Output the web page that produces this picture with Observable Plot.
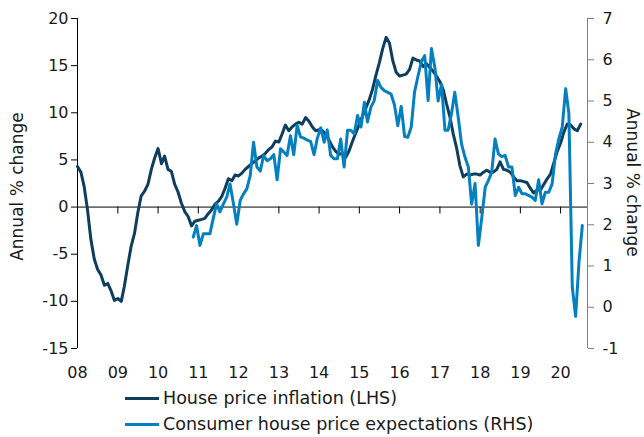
<!DOCTYPE html>
<html>
<head>
<meta charset="utf-8">
<script src="https://cdn.jsdelivr.net/npm/d3@7"></script>
<script src="https://cdn.jsdelivr.net/npm/@observablehq/plot@0.6"></script>
<style>
  html, body { margin: 0; padding: 0; background: #fff; overflow: hidden; }
  body { font-family: "DejaVu Sans", Verdana, sans-serif; color: #1a1a1a; width: 644px; }
  #legend { margin-left: 125px; font-size: 17.5px; }
  #legend .row { display: flex; align-items: center; height: 26px; }
  #legend .sw { display: inline-block; width: 34px; height: 3px; margin-right: 4px; }
</style>
</head>
<body>
<div id="chart"></div>
<div id="legend"></div>
<script>
// ---- data (monthly) ----
const startYear = 2008;
// House price inflation, LHS, monthly from Jan 2008
const housePriceInflation = [
  4.3, 3.7, 2.2, -0.3, -3.4, -5.5, -6.6, -7.2, -8.3, -8.1,
  -8.9, -9.9, -9.7, -10.0, -8.4, -6.2, -4.2, -2.8, -0.6, 1.2,
  1.7, 2.4, 4.0, 5.2, 6.2, 4.6, 5.4, 4.0, 3.8, 2.4,
  1.6, 0.4, -0.5, -1.0, -2.0, -1.5, -1.4, -1.3, -1.2, -0.7,
  -0.3, 0.3, 0.6, 1.1, 2.0, 3.0, 2.8, 3.4, 3.3, 3.6,
  4.0, 4.3, 4.6, 4.9, 5.2, 5.4, 5.7, 6.1, 6.4, 7.0,
  6.9, 7.8, 8.7, 8.1, 8.5, 8.8, 9.0, 8.8, 9.5, 9.1,
  8.5, 8.1, 8.2, 8.1, 7.7, 7.1, 6.4, 5.9, 5.6, 5.7,
  5.3, 6.0, 7.0, 7.9, 8.8, 9.7, 10.5, 11.4, 12.5, 14.0,
  15.3, 16.8, 18.0, 17.4, 15.5, 14.3, 13.9, 14.0, 14.1, 14.6,
  15.8, 15.6, 15.5, 14.9, 15.2, 14.8, 14.4, 13.9, 13.3, 12.4,
  11.0, 9.6, 7.8, 6.3, 4.4, 3.2, 3.5, 3.4, 3.5, 3.5,
  3.4, 3.7, 3.9, 3.7, 3.7, 4.0, 4.8, 4.0, 3.9, 3.7,
  3.2, 2.8, 2.8, 2.7, 2.6, 2.0, 1.5, 1.8, 1.8, 2.4,
  3.0, 3.5, 4.7, 5.9, 6.8, 8.0, 8.8, 8.7, 8.3, 8.1,
  8.8
];
// Consumer house price expectations, RHS, monthly starting Nov 2010 (month index 34)
const expectationsStartMonth = 34;
const priceExpectations = [
  1.70, 1.98, 1.50, 1.78, 1.78, 1.78, 2.15, 2.51, 2.31, 2.50,
  2.67, 2.99, 2.51, 2.01, 2.59, 2.75, 2.87, 3.19, 4.00, 3.40,
  3.30, 3.68, 3.55, 3.60, 3.70, 3.09, 3.84, 3.76, 3.68, 4.16,
  3.70, 4.41, 4.13, 4.10, 4.05, 4.02, 3.70, 4.10, 4.35, 4.00,
  4.30, 3.68, 3.60, 3.60, 4.08, 3.40, 4.29, 4.29, 4.20, 4.65,
  4.37, 4.97, 4.49, 4.85, 5.01, 5.50, 5.33, 5.25, 5.21, 5.17,
  4.90, 4.40, 4.87, 4.14, 4.12, 4.37, 5.22, 5.60, 5.95, 6.10,
  5.01, 6.27, 5.82, 5.00, 5.40, 4.29, 4.29, 4.69, 5.21, 4.61,
  3.96, 3.64, 3.40, 2.50, 3.00, 1.50, 2.18, 2.91, 3.07, 3.27,
  4.08, 3.72, 3.65, 3.68, 3.40, 3.40, 2.71, 2.91, 2.75, 2.75,
  2.71, 2.67, 2.59, 3.09, 2.51, 2.79, 2.79, 2.99, 3.72, 4.08,
  4.37, 5.30, 4.70, 0.49, -0.22, 1.10, 1.98
];
const leftTicks = [-15, -10, -5, 0, 5, 10, 15, 20];
const rightTicks = [-1, 0, 1, 2, 3, 4, 5, 6, 7];
const yearTicks = [2008, 2009, 2010, 2011, 2012, 2013, 2014, 2015, 2016, 2017, 2018, 2019, 2020];
const leftDomain = [-15, 20];
const rightDomain = [-1, 7];
const xDomain = [new Date(Date.UTC(2008, 0, 1)), new Date(Date.UTC(2020, 8, 1))];
const seriesNames = ["House price inflation (LHS)", "Consumer house price expectations (RHS)"];
const axisTitle = "Annual % change";

// ---- styling ----
const darkColor = "#0d3e5d";
const lightColor = "#0480c1";

// map RHS values onto the LHS scale
const toLeft = r => leftDomain[0] + (r - rightDomain[0]) * (leftDomain[1] - leftDomain[0]) / (rightDomain[1] - rightDomain[0]);
const fromLeft = l => rightDomain[0] + (l - leftDomain[0]) * (rightDomain[1] - rightDomain[0]) / (leftDomain[1] - leftDomain[0]);

const darkData = housePriceInflation.map((v, i) => ({date: new Date(Date.UTC(startYear, i, 1)), value: v}));
const lightData = priceExpectations.map((v, i) => ({date: new Date(Date.UTC(startYear, expectationsStartMonth + i, 16)), value: v}));
const yearDates = yearTicks.map(y => new Date(Date.UTC(y, 0, 1)));

const tickShape = {draw(context, l) { context.moveTo(0, 0); context.lineTo(0, -l); }};

const chart = Plot.plot({
  width: 644,
  height: 385,
  marginLeft: 77,
  marginRight: 57,
  marginTop: 18,
  marginBottom: 37,
  style: {fontFamily: "'DejaVu Sans', Verdana, sans-serif", fontSize: "16px", color: "#1a1a1a", background: "#fff"},
  x: {type: "utc", domain: xDomain},
  y: {domain: leftDomain},
  marks: [
    Plot.ruleY([0], {stroke: "#000", strokeWidth: 1}),
    Plot.vector(yearDates, {x: d => d, y: d => 0, length: 6, rotate: 180, anchor: "start", shape: tickShape, stroke: "#000", strokeWidth: 1}),
    Plot.axisX(yearDates, {anchor: "bottom", tickSize: 0, tickPadding: 18, tickFormat: d3.utcFormat("%y"), label: null}),
    Plot.ruleX([xDomain[0]], {stroke: "#000", strokeWidth: 1}),
    Plot.ruleX([xDomain[1]], {stroke: "#808080", strokeWidth: 1}),
    Plot.axisY(leftTicks, {anchor: "left", tickSize: 6, tickPadding: 3, label: null, stroke: "#000", fill: "#1a1a1a", tickFormat: d => String(d)}),
    Plot.axisY(rightTicks.map(toLeft), {anchor: "right", tickSize: 6, tickPadding: 9, label: null, stroke: "#808080", fill: "#1a1a1a", tickFormat: d => String(Math.round(fromLeft(d)))}),
    Plot.text([axisTitle], {frameAnchor: "left", textAnchor: "middle", rotate: -90, dx: -60, dy: 3, fontSize: 17}),
    Plot.text([axisTitle], {frameAnchor: "right", textAnchor: "middle", rotate: 90, dx: 45, dy: -1, fontSize: 17}),
    Plot.line(darkData, {x: "date", y: "value", stroke: darkColor, strokeWidth: 3, strokeLinejoin: "round"}),
    Plot.line(lightData, {x: "date", y: d => toLeft(d.value), stroke: lightColor, strokeWidth: 3, strokeLinejoin: "round"})
  ]
});
document.getElementById("chart").appendChild(chart);

const legend = document.getElementById("legend");
[[seriesNames[0], darkColor], [seriesNames[1], lightColor]].forEach(([name, color]) => {
  const row = document.createElement("div");
  row.className = "row";
  const sw = document.createElement("span");
  sw.className = "sw";
  sw.style.background = color;
  row.appendChild(sw);
  row.appendChild(document.createTextNode(name));
  legend.appendChild(row);
});
</script>
</body>
</html>
